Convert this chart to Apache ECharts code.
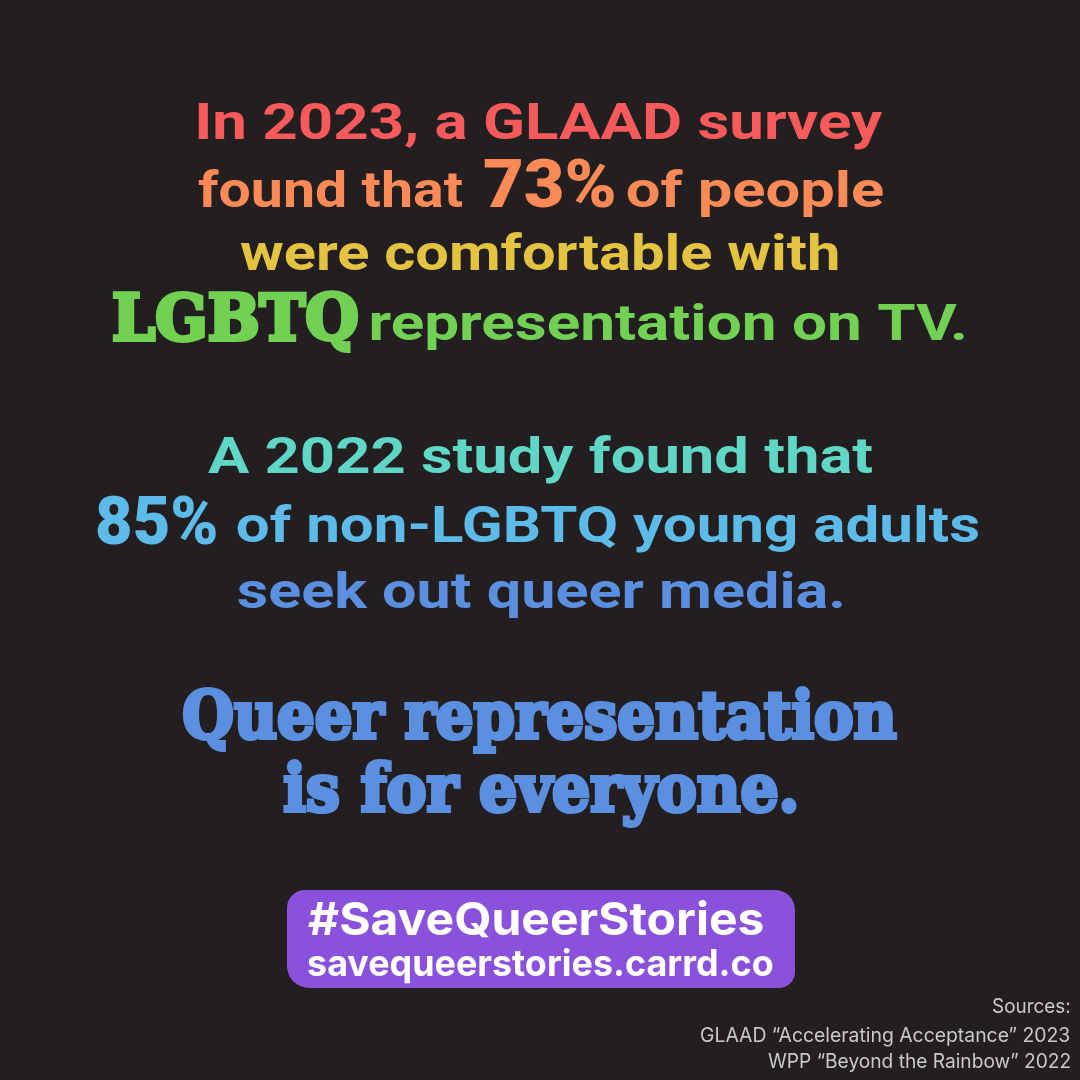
<!DOCTYPE html>
<html>
<head>
<meta charset="utf-8">
<script src="https://cdn.jsdelivr.net/npm/echarts@6/dist/echarts.min.js"></script>
<style>
html,body{margin:0;padding:0;background:#231f20;}
#chart{width:1080px;height:1080px;}
</style>
</head>
<body>
<div id="chart"></div>
<script>
// ---------- DATA ----------
const statYears = ['2023', '2022'];
const statPercents = ['73%', '85%'];
const sourceLines = ['Sources:', 'GLAAD “Accelerating Acceptance” 2023', 'WPP “Beyond the Rainbow” 2022'];
const hashtag = '#SaveQueerStories';
const siteUrl = 'savequeerstories.carrd.co';
// each line: list of [text, role]
const paragraph1 = [
  [['In ' + statYears[0] + ', a GLAAD survey', 'body']],
  [['found that', 'body'], [statPercents[0], 'stat'], ['of people', 'body']],
  [['were comfortable with', 'body']],
  [['LGBTQ', 'slab'], ['representation on TV.', 'body']]
];
const paragraph2 = [
  [['A ' + statYears[1] + ' study found that', 'body']],
  [[statPercents[1], 'stat'], ['of non-LGBTQ young adults', 'body']],
  [['seek out queer media.', 'body']]
];
const slogan = [
  [['Queer representation', 'slogan']],
  [['is for everyone.', 'slogan']]
];

// ---------- STYLE / LAYOUT ----------
const roleFont = {
  body: {family: 'Roboto', weight: 700, cap: 36, stroke: 0},
  stat: {family: 'Roboto', weight: 900, cap: 48, stroke: 0},
  slab: {family: '"DejaVu Serif"', weight: 700, cap: 46, stroke: 4.2},
  slogan: {family: '"DejaVu Serif"', weight: 700, cap: 48, stroke: 4.2},
  tag: {family: 'Inter', weight: 700, cap: 33, stroke: 0},
  url: {family: 'Inter', weight: 700, cap: 27, stroke: 0},
  src: {family: 'Inter', weight: 400, cap: 14.5, stroke: 0}
};
const p1Colors = ['#f65a5a', '#fb8a56', '#e3c33f', '#72d152'];
const p2Colors = ['#5fd6c6', '#5cbbe9', '#5b8fe0'];
const sloganColor = '#5b8fe0';
// per segment: [left, right, baseline]
const p1Boxes = [
  [[198, 883, 139]],
  [[198, 462, 207], [484, 614, 207], [627, 883, 207]],
  [[240, 838, 270]],
  [[114, 357, 340], [371, 965, 340]]
];
const p2Boxes = [
  [[208, 872, 473]],
  [[97, 216, 544], [237, 978, 542]],
  [[238, 843, 608]]
];
const sloganBoxes = [[[184, 896, 738]], [[285, 795, 811]]];

const ctx = document.createElement('canvas').getContext('2d');
function fontInfo(role) {
  const f = roleFont[role];
  ctx.textBaseline = 'middle';
  ctx.font = f.weight + ' 100px ' + f.family;
  const m = ctx.measureText('H');
  const capAt100 = m.actualBoundingBoxAscent + m.actualBoundingBoxDescent;
  const size = f.cap * 100 / capAt100;
  ctx.font = f.weight + ' ' + size + 'px ' + f.family;
  const m2 = ctx.measureText('H');
  return {size: size, font: ctx.font, desc: m2.actualBoundingBoxDescent, f: f};
}
function buildSegment(text, role, box, color) {
  const [left, right, baseline] = box;
  const info = fontInfo(role);
  ctx.font = info.font;
  const mt = ctx.measureText(text);
  const inkL = -mt.actualBoundingBoxLeft;
  const inkW = mt.actualBoundingBoxRight + mt.actualBoundingBoxLeft;
  const sx = (right - left) / inkW;
  return {
    type: 'text',
    x: left - inkL * sx,
    y: baseline - info.desc,
    scaleX: sx,
    style: {
      text: text,
      fontSize: info.size,
      fontFamily: info.f.family.replace(/"/g, ''),
      fontWeight: info.f.weight,
      fill: color,
      stroke: info.f.stroke ? color : null,
      lineWidth: info.f.stroke,
      lineJoin: 'round',
      align: 'left',
      verticalAlign: 'middle'
    }
  };
}
function addLines(lines, boxes, colorFn, out) {
  lines.forEach((ln, i) => ln.forEach(([t, r], j) => out.push(buildSegment(t, r, boxes[i][j], colorFn(i)))));
}

const graphics = [];
addLines(paragraph1, p1Boxes, i => p1Colors[i], graphics);
addLines(paragraph2, p2Boxes, i => p2Colors[i], graphics);
addLines(slogan, sloganBoxes, () => sloganColor, graphics);

// purple tag box
graphics.push({
  type: 'rect',
  shape: {x: 287, y: 890, width: 508, height: 98, r: [18, 20, 16, 22]},
  style: {fill: '#8a52dc'}
});
graphics.push(buildSegment(hashtag, 'tag', [308, 763, 935], '#ffffff'));
graphics.push(buildSegment(siteUrl, 'url', [308, 773, 976], '#ffffff'));

// sources
const srcBoxes = [[993, 1070, 1013], [701, 1070, 1042], [768, 1070, 1068]];
sourceLines.forEach((t, i) => graphics.push(buildSegment(t, 'src', srcBoxes[i], '#c9c9c9')));

const chart = echarts.init(document.getElementById('chart'), null, {renderer: 'canvas'});
chart.setOption({
  backgroundColor: '#231f20',
  animation: false,
  graphic: {elements: graphics}
});
</script>
</body>
</html>
